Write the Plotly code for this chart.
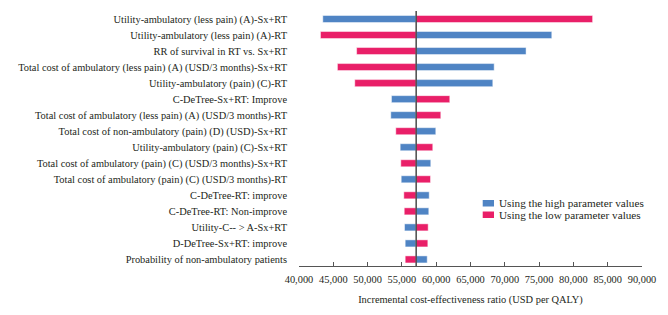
import plotly.graph_objects as go

labels = [
    "Utility-ambulatory (less pain) (A)-Sx+RT",
    "Utility-ambulatory (less pain) (A)-RT",
    "RR of survival in RT vs. Sx+RT",
    "Total cost of ambulatory (less pain) (A) (USD/3 months)-Sx+RT",
    "Utility-ambulatory (pain) (C)-RT",
    "C-DeTree-Sx+RT: Improve",
    "Total cost of ambulatory (less pain) (A) (USD/3 months)-RT",
    "Total cost of non-ambulatory (pain) (D) (USD)-Sx+RT",
    "Utility-ambulatory (pain) (C)-Sx+RT",
    "Total cost of ambulatory (pain) (C) (USD/3 months)-Sx+RT",
    "Total cost of ambulatory (pain) (C) (USD/3 months)-RT",
    "C-DeTree-RT: improve",
    "C-DeTree-RT: Non-improve",
    "Utility-C-- > A-Sx+RT",
    "D-DeTree-Sx+RT: improve",
    "Probability of non-ambulatory patients",
]
high_values = [43470, 76850, 73100, 68450, 68250, 53480, 53380, 59940,
               54750, 59210, 54900, 58980, 58920, 55380, 55480, 58690]
low_values = [82800, 43130, 48400, 45600, 48130, 61980, 60670, 54110,
              59500, 54840, 59170, 55280, 55340, 58830, 58780, 55480]
base_icer = 57080
x_ticks = [40000, 45000, 50000, 55000, 60000, 65000, 70000, 75000, 80000, 85000, 90000]
x_ticktext = ["40,000", "45,000", "50,000", "55,000", "60,000", "65,000",
              "70,000", "75,000", "80,000", "85,000", "90,000"]
series_names = ["Using the high parameter values", "Using the low parameter values"]

BLUE = "#4F84C4"
RED = "#E91F68"
FONT = "Liberation Serif"
TXT = "#231F20"
FS = 10.4
LEG_FS = 11.2

fig = go.Figure()
for vals, name, col in [(high_values, series_names[0], BLUE), (low_values, series_names[1], RED)]:
    fig.add_trace(go.Bar(
        y=labels, x=[v - base_icer for v in vals], base=base_icer,
        orientation="h", name=name, showlegend=False,
        marker=dict(color=col, line=dict(color="rgba(255,255,255,0.6)", width=0.8)),
        width=0.44,
    ))

fig.add_shape(type="line", xref="x", yref="paper", x0=base_icer, x1=base_icer,
              y0=0, y1=1, line=dict(color="#4A4A4A", width=1.5), layer="above")

# legend (drawn manually to match the compact reference legend)
leg = [(series_names[0], BLUE, 0.2333, 0.2588, 0.2459),
       (series_names[1], RED, 0.1882, 0.2137, 0.2008)]
for name, col, y0, y1, yt in leg:
    fig.add_shape(type="rect", xref="paper", yref="paper", x0=0.5356, x1=0.5685,
                  y0=y0, y1=y1, fillcolor=col, line=dict(width=0))
    fig.add_annotation(xref="paper", yref="paper", x=0.5787, y=yt, text=name,
                       showarrow=False, xanchor="left", yanchor="middle",
                       font=dict(family=FONT, size=LEG_FS, color=TXT))

fig.update_layout(
    width=668, height=315,
    margin=dict(l=299, r=26, t=11, b=49),
    barmode="overlay",
    plot_bgcolor="white", paper_bgcolor="white",
    font=dict(family=FONT, size=FS, color=TXT),
    showlegend=False,
)
fig.update_xaxes(
    range=[40000, 90000], tickvals=x_ticks, ticktext=x_ticktext,
    showgrid=False, zeroline=False, showline=True, linecolor="#555555", linewidth=1,
    ticks="inside", ticklen=4, tickcolor="#555555", automargin=False,
    ticklabelstandoff=4,
    title=dict(text="Incremental cost-effectiveness ratio (USD per QALY)",
               font=dict(family=FONT, size=FS, color=TXT), standoff=11),
)
fig.update_yaxes(
    categoryorder="array", categoryarray=labels,
    range=[15.41, -0.5], showgrid=False, zeroline=False, showline=False,
    ticks="", ticklabelstandoff=11, automargin=False,
)
fig.write_html("out.html", config={"displayModeBar": False},
               post_script="document.body.style.margin='0';document.body.style.overflow='hidden';")
